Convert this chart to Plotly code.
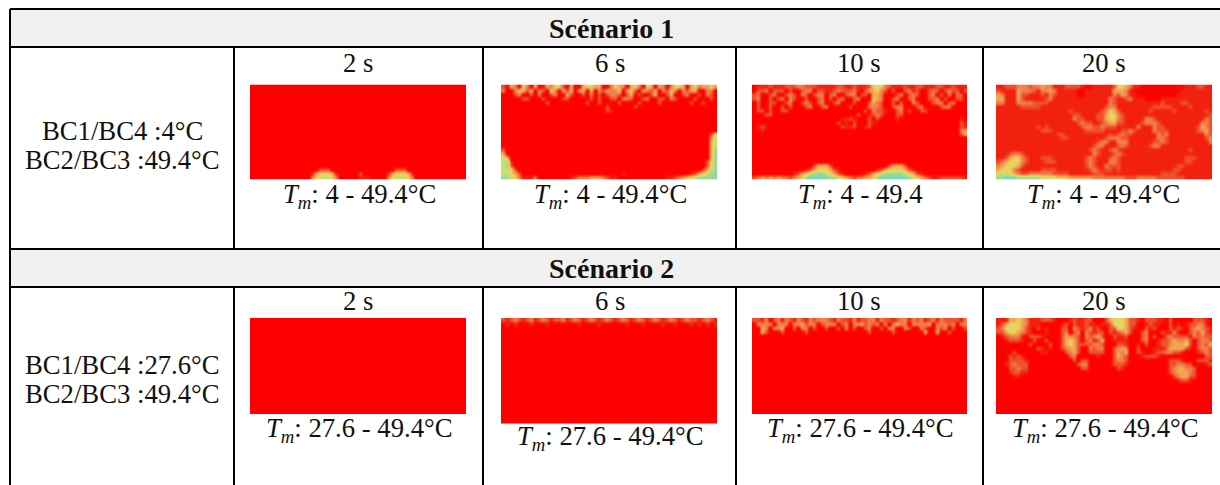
import plotly.graph_objects as go

W, H = 1220, 485
COLS, ROWS = 54, 24
RED = "9" * COLS

# Cell level: 9 = hot (red) ... 1 = coldest seen (teal)
s1_2s = [RED] * 21 + [
    "999999999999999997779999999999999999777999999999999999",
    "999999999999999854445899999799999985444589999999999999",
    "999999999999999643334699999888999964333469999999999999",
]
s1_6s = [
    "795694695985644795995445599645695469459569644595465545",
    "699645759679469575955959675664954795675967469675599669",
    "999769979699769957997969797667975979975997599769979679",
    "999997799979999779999979799779667997699779679999799979",
    "999999999997999999999799799997999979999799999997997999",
    "999999999999999999999999997999999799999999999999999999",
    "999999999999999999999999997899999999999999999999999999",
    RED, RED, RED, RED, RED,
    "999999999999999999999999999999999999999999999999999973",
    "999999999999999999999999999999999999999999999999999963",
    "999999999999999999999999999999999999999999999999999953",
    "999999999999999999999999999999999999999999999999999953",
    "799999999999999999999999999999999999999999999999999952",
    "599999999999999999999999999999999999999999999999999952",
    "359999999999999999999999999999999999999999999999999952",
    "328999999999999999999999999999999999999999999999999742",
    "327999999999999999999999999999999999999999999999999742",
    "334799999999999999999999999999999999999999999999997532",
    "334579999999999999999999999999899999999999999998754322",
    "223468886999999998766655567889999999999998876543322222",
]
s1_10s = [
    "988878887776677788888778878887444678887887788877887888",
    "977697779799766977887677768975546797997687997679767797",
    "769976997679679766976997669779556999769767997697969679",
    "769979769679979976979769976999456997699769997769799779",
    "979977997699767976997699979997567997979967999766976999",
    "979979979799976997699999799996667997669997699997669999",
    "977979977999999999999999999979677899769799779999999999",
    "999779999999999999999999997998767999779999999999999999",
    "999999999999999999999988789997979999899999999999999989",
    "999999999999999999999798979997899999999999999999999978",
    "987899999999999999999978879987999999999999999999999978",
    "998999999999999999999999999999999999999999999999999965",
    "999999999999999999999999999999999999999999999999999975",
    RED, RED, RED, RED, RED, RED, RED,
    "999999999999999755579999999999999975557999999999999999",
    "999999999999987544457899999999987544445789999999999999",
    "999999999987543222345789999987543222223457899999999999",
    "765656566765421111122345676655421111111234567887777778",
]
s1_20s = [
    "887776667665668887777899888887445688999999999998887788",
    "788885666786656888889988888885556899999999999988888888",
    "568885778887867888889988888886756889999999999888888888",
    "558885788888768888888888888867887688899998888888888888",
    "668886666777788888888888888867888888888887888877888888",
    "888888777778888888888888888766888888888777778888788888",
    "888888888888888888788888887645788888887888887888888878",
    "888888888888888888877888877544678888888888888888888887",
    "888888888888888888867788877544678888866788888888888867",
    "888888888888888888887677887655778888766678888888888667",
    "888888888878788888888766776777888886888677888888887567",
    "888888888887778888888877777888877678888677788888887657",
    "888888888888888778888888888878767788888867688888888867",
    "888888888888888877888888888766677888888866788888888876",
    "888888888888888888888888876688666888888776788888888886",
    "888888888888888888888888766888767888887668888888888888",
    "888888888888888888888887678876788888888888888888788888",
    "888766788888888888888888678887678888888888888888888888",
    "887544678887778888888876788876788888888888888887778888",
    "765444678888777888888876788866788888888888888887788888",
    "654445788888888888888876788677788888888888888778888888",
    "544467888887777888888887678778788888888888887788888888",
    "333456776666667777888888777888888888888887777888888888",
    "221112222223333444555555666666667776666677777778888888",
]
s2_2s = [RED] * 24
s2_6s = [
    "787678768767877687678767876787678767876787678767787678",
    "989899989998999999989999899999989998999989989998989898",
] + [RED] * 22
s2_10s = [
    "778697686786786766678677868776686778766867687686777786",
    "966669666966576697666976966576769696566966665966676966",
    "995696659979669799799796979976997966996799679967697997",
    "995799979999979999999999999997999997999999959959979999",
] + [RED] * 20
s2_20s = [
    "888554568887778999878877999754445778977788979999977789",
    "875444568889999987978878898874345779987889979898776689",
    "764344578979899977967876879977445789978799978789765678",
    "775445678999899976976967877978765799769997886899767578",
    "987666897778999975667967657997887999769799767777867677",
    "998777899799799975457976875998888999769987765665797667",
    "999999997999979975457777667999778998979987765554797675",
    "999999999978989976557996766997656997999888755557897667",
    "999979999998899997657997777997565997899877667789998767",
    "999787899999999999769999989997567999877789999999999977",
    "999777789999999999979779999997667999999999977789997778",
    "998767779999999999997669999997778999999999977667799987",
    "999776779999999999999779999999789999999999976556679999",
    "999877889999999999999999999999999999999999976555679999",
    "999988999999999999999999999999999999999999997655779999",
    "999999999999999999999999999999999999999999999877899999",
] + [RED] * 8

scenario_titles = ["Scénario 1", "Scénario 2"]
time_labels = ["2 s", "6 s", "10 s", "20 s"]
bc_labels = [["BC1/BC4 :4°C", "BC2/BC3 :49.4°C"], ["BC1/BC4 :27.6°C", "BC2/BC3 :49.4°C"]]
range_labels = [
    ["4 - 49.4°C", "4 - 49.4°C", "4 - 49.4", "4 - 49.4°C"],
    ["27.6 - 49.4°C", "27.6 - 49.4°C", "27.6 - 49.4°C", "27.6 - 49.4°C"],
]
fields = [[s1_2s, s1_6s, s1_10s, s1_20s], [s2_2s, s2_6s, s2_10s, s2_20s]]

# Layout of the table, in pixels
panel_x = [(250, 466), (501, 717), (752, 967), (996, 1212)]
panel_y = [[(84.5, 179.5)] * 4,
           [(318, 414), (318, 423.5), (318, 414), (318, 414)]]
col_lines = [10, 234, 483, 736, 983]
band_y = [(9, 47), (249, 287)]
title_cx = 611
time_cx = [358, 610, 859, 1104]
range_cx = [[359, 610, 860, 1103], [359, 610, 860, 1105]]
time_cy = [63, 301]
range_cy = [[196] * 4, [430, 438, 430, 430]]
bc_cy = [[131, 160], [365, 394]]
bc_cx = 122
FONT = "Liberation Serif"
SIZE = 26.7
TITLE_SIZE = 28

colorscale = [
    [0 / 8, "#74d8b8"], [1 / 8, "#94dc94"], [2 / 8, "#c8e070"], [3 / 8, "#ecd060"],
    [4 / 8, "#f0a850"], [5 / 8, "#f08048"], [6 / 8, "#f05030"], [7 / 8, "#f2200e"],
    [8 / 8, "#fe0000"],
]


def px(x):
    return x / W


def py(y):
    return 1 - y / H


fig = go.Figure()
layout = dict(
    width=W, height=H, margin=dict(l=0, r=0, t=0, b=0),
    paper_bgcolor="white", plot_bgcolor="white", showlegend=False,
)
shapes, annotations = [], []


def line(x0, y0, x1, y1):
    shapes.append(dict(type="line", xref="paper", yref="paper", x0=px(x0), x1=px(x1),
                       y0=py(y0), y1=py(y1), line=dict(color="black", width=2), layer="above"))


def label(text, cx, cy, size=SIZE):
    annotations.append(dict(text=text, x=px(cx), y=py(cy), xref="paper", yref="paper",
                            xanchor="center", yanchor="middle", showarrow=False,
                            font=dict(family=FONT, size=size, color="#111111")))


n = 0
for r in range(2):
    top, bottom = band_y[r]
    shapes.append(dict(type="rect", xref="paper", yref="paper", x0=px(col_lines[0]), x1=1,
                       y0=py(top), y1=py(bottom), fillcolor="#f0f0f0", line_width=0, layer="below"))
    line(col_lines[0], top, W, top)
    line(col_lines[0], bottom, W, bottom)
    row_end = band_y[1][0] if r == 0 else H
    for cx in col_lines[1:]:
        line(cx, bottom, cx, row_end)
    label("<b>" + scenario_titles[r] + "</b>", title_cx, (top + bottom) / 2 + 0.5, TITLE_SIZE)
    for text, cy in zip(bc_labels[r], bc_cy[r]):
        label(text, bc_cx, cy)
    for c in range(4):
        label(time_labels[c], time_cx[c], time_cy[r])
        label("<i>T<sub>m</sub></i>: " + range_labels[r][c], range_cx[r][c], range_cy[r][c])
        n += 1
        x0, x1 = panel_x[c]
        y0, y1 = panel_y[r][c]
        grid = [[int(ch) for ch in row[:COLS].ljust(COLS, "9")] for row in fields[r][c]]
        suffix = "" if n == 1 else str(n)
        fig.add_trace(go.Heatmap(z=grid, xaxis="x" + suffix, yaxis="y" + suffix, zmin=1, zmax=9,
                                 zsmooth="best", colorscale=colorscale, showscale=False,
                                 hoverinfo="skip"))
        layout["xaxis" + suffix] = dict(domain=[px(x0), px(x1)], range=[-0.5, COLS - 0.5],
                                        visible=False, fixedrange=True,
                                        anchor="y" + suffix)
        layout["yaxis" + suffix] = dict(domain=[py(y1), py(y0)], range=[ROWS - 0.5, -0.5],
                                        visible=False, fixedrange=True,
                                        anchor="x" + suffix)

line(col_lines[0], band_y[0][0], col_lines[0], H)
layout["shapes"] = shapes
layout["annotations"] = annotations
fig.update_layout(**layout)
fig.write_html("out.html", config=dict(displayModeBar=False),
               post_script="document.body.style.margin='0';document.documentElement.style.overflow='hidden';")
